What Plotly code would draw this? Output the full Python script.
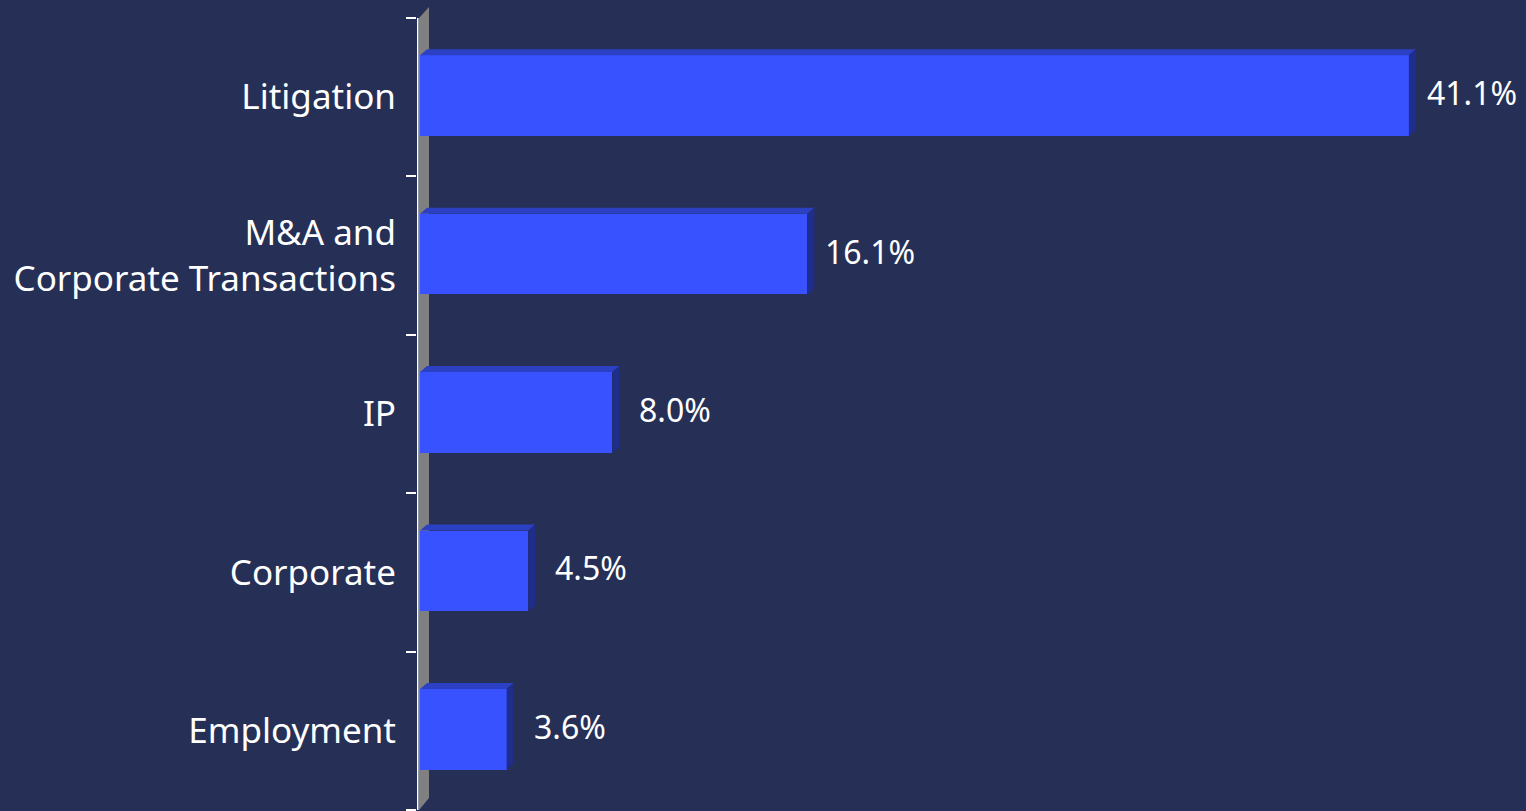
import plotly.graph_objects as go

# Practice areas and their share of matters (%)
categories = ["Litigation", "M&A and<br>Corporate Transactions", "IP", "Corporate", "Employment"]
shares = [41.1, 16.1, 8.0, 4.5, 3.6]
value_labels = ["41.1%", "16.1%", "8.0%", "4.5%", "3.6%"]

BG = "#263056"
FRONT = "#3852ff"
TOP = "#2c40c4"
SIDE = "#1f2d8c"
WALL = "#808080"
FONT = "Noto Sans"

W, H = 1526, 811
LEFT = 417           # plot area left edge (px)
ZERO_PX = 3          # px between plot edge and x = 0
PX_PER_X = 24.06     # horizontal scale (px per percentage point)
PX_PER_Y = 158.4     # vertical band per category (px)
TOP_PAD = 18         # px above the first band
BOT_PAD = 1

x_range = [-ZERO_PX / PX_PER_X, (W - LEFT - ZERO_PX) / PX_PER_X]
n = len(categories)
y_range = [n - 0.5 + BOT_PAD / PX_PER_Y, -0.5 - TOP_PAD / PX_PER_Y]

bar_w = 0.51
bar_lift = 1.5 / PX_PER_Y   # front faces sit slightly above band centres
dx = 7 / PX_PER_X           # depth offset for the 3D faces
dy = 6 / PX_PER_Y

pos = list(range(n))
bar_pos = [p - bar_lift for p in pos]

fig = go.Figure()

# front faces
fig.add_trace(go.Bar(
    x=shares, y=bar_pos, orientation="h", width=bar_w,
    marker=dict(color=FRONT, line=dict(width=0)),
    hoverinfo="skip", showlegend=False,
))

# top faces and right-side faces of the bars
top_x, top_y, side_x, side_y = [], [], [], []
for p, v in zip(bar_pos, shares):
    y_top = p - bar_w / 2
    y_bot = p + bar_w / 2
    top_x += [0, v, v + dx, dx, 0, None]
    top_y += [y_top, y_top, y_top - dy, y_top - dy, y_top, None]
    side_x += [v, v + dx, v + dx, v, v, None]
    side_y += [y_top, y_top - dy, y_bot - dy, y_bot, y_top, None]

fig.add_trace(go.Scatter(x=top_x, y=top_y, mode="lines", fill="toself",
                         fillcolor=TOP, line=dict(width=0), hoverinfo="skip",
                         showlegend=False))
fig.add_trace(go.Scatter(x=side_x, y=side_y, mode="lines", fill="toself",
                         fillcolor=SIDE, line=dict(width=0), hoverinfo="skip",
                         showlegend=False))

# grey back wall behind the category axis
wx0, wx1 = -1 / PX_PER_X, 9 / PX_PER_X
wy_top, wy_bot = -0.5, n - 0.5
wall_path = (f"M {wx0},{wy_bot} L {wx0},{wy_top} "
             f"L {wx1},{wy_top - 11 / PX_PER_Y} L {wx1},{wy_bot - 12 / PX_PER_Y} Z")
fig.add_shape(type="path", path=wall_path, xref="x", yref="y",
              fillcolor=WALL, line=dict(width=0), layer="below")

# white axis line
ax_x = -2.5 / PX_PER_X
fig.add_shape(type="line", xref="x", yref="y", x0=ax_x, x1=ax_x,
              y0=wy_top, y1=wy_bot, line=dict(color="white", width=2), layer="above")

# value labels
for p, v, t in zip(bar_pos, shares, value_labels):
    fig.add_annotation(x=v, y=p, text=t, showarrow=False, xanchor="center",
                       xshift=63, yshift=3,
                       font=dict(family=FONT, size=32, color="white"))

fig.update_layout(
    width=W, height=H,
    margin=dict(l=LEFT, r=0, t=0, b=0, pad=0),
    paper_bgcolor=BG, plot_bgcolor=BG,
    bargap=0,
    xaxis=dict(range=x_range, visible=False, fixedrange=True),
    yaxis=dict(
        range=y_range, tickmode="array", tickvals=pos, ticktext=categories,
        ticks="", showline=False, showgrid=False, zeroline=False,
        tickfont=dict(family=FONT, size=35, color="white"),
        ticklabelstandoff=20,
        minor=dict(tickmode="array", tickvals=[p - 0.5 for p in pos] + [n - 0.5],
                   ticks="outside", ticklen=10, tickwidth=2, tickcolor="white",
                   showgrid=False),
    ),
)

fig.write_html("out.html")
